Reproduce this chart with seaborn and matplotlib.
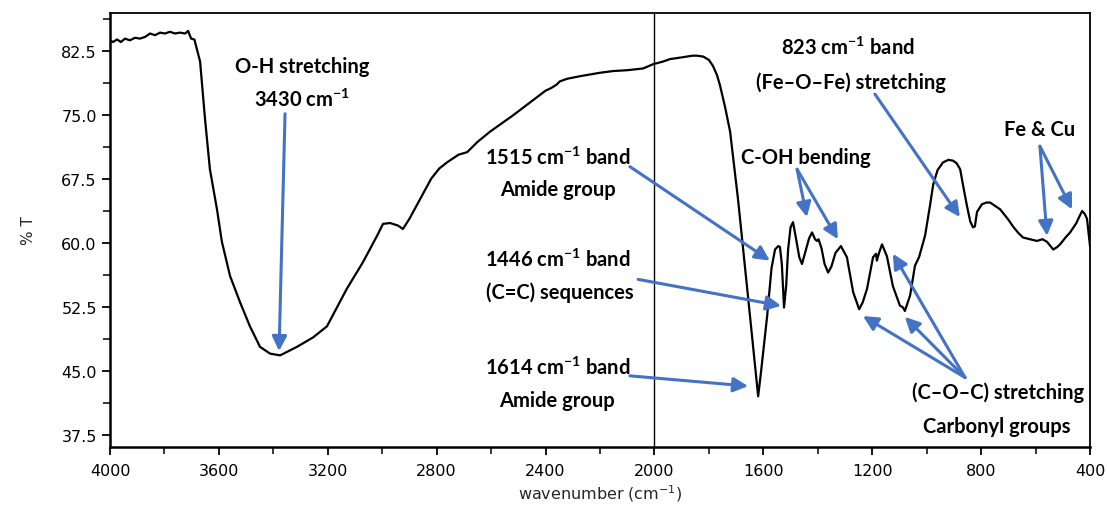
import matplotlib
matplotlib.use("Agg")
import matplotlib.pyplot as plt
import seaborn as sns
import pandas as pd
from matplotlib.ticker import MultipleLocator

# ---- data ----
wavenumber = [4000, 3989, 3974, 3960, 3945, 3927, 3908, 3890, 3871, 3853, 3835, 3816,
              3798, 3780, 3761, 3743, 3724, 3713, 3702, 3690, 3669, 3651, 3633, 3607,
              3589, 3559, 3522, 3486, 3449, 3412, 3375, 3313, 3254, 3203, 3130, 3071,
              3019, 2997, 2971, 2942, 2924, 2900, 2861, 2820,
              2790, 2762, 2720, 2688, 2650, 2604, 2560, 2520, 2450, 2400, 2380, 2360,
              2347, 2320, 2273, 2200, 2152, 2100, 2042, 2005, 1970, 1943, 1900, 1860,
              1844, 1821, 1800, 1785, 1770, 1759, 1740, 1722, 1693, 1674, 1649, 1630,
              1619, 1608, 1586, 1570, 1557, 1545, 1539, 1532, 1524, 1516, 1509, 1500,
              1491, 1480, 1468, 1458, 1445, 1432, 1421, 1410, 1403, 1397, 1386, 1375,
              1362, 1350, 1335, 1315, 1293, 1270, 1248, 1235, 1219, 1197, 1186, 1183,
              1175, 1164, 1146, 1124, 1098, 1090, 1085, 1080, 1061, 1043, 1028, 1006,
              988, 976, 960, 940, 920, 903, 890, 877, 865, 852, 840, 830, 823, 815,
              797, 780, 767, 730, 700, 683, 665, 646, 620, 595, 575, 558, 545, 535,
              520, 510, 490, 473, 450, 440, 429, 420, 411, 405, 400]
transmittance = [83.7, 83.5, 83.8, 83.5, 83.9, 83.7, 84.0, 83.9, 84.1, 84.5, 84.3, 84.6,
                 84.5, 84.7, 84.5, 84.6, 84.5, 84.8, 83.9, 83.8, 81.2, 74.5, 68.6, 63.9,
                 60.1, 56.1, 53.0, 50.2, 47.8, 47.0, 46.8, 47.8, 48.9, 50.2, 54.6, 57.7,
                 60.8, 62.2, 62.3, 62.0, 61.6, 62.8, 65.1, 67.5,
                 68.7, 69.4, 70.3, 70.6, 71.8, 73.0, 74.0, 74.9, 76.6, 77.8, 78.1, 78.5,
                 78.9, 79.2, 79.5, 79.9, 80.1, 80.2, 80.4, 80.9, 81.2, 81.5, 81.7, 81.9,
                 81.9, 81.8, 81.4, 80.7, 79.6, 78.4, 75.8, 73.0, 65.1, 59.2, 51.4, 45.4,
                 42.0, 45.0, 51.4, 57.0, 59.2, 59.6, 59.5, 57.5, 52.4, 55.0, 59.2, 61.8,
                 62.4, 60.5, 58.3, 57.5, 59.0, 60.5, 61.2, 60.4, 60.2, 60.4, 59.3, 57.5,
                 56.5, 57.2, 58.8, 59.6, 58.3, 54.2, 52.2, 53.0, 54.6, 58.3, 58.7, 57.9,
                 58.8, 59.8, 58.4, 54.9, 52.6, 52.5, 52.3, 52.0, 53.8, 57.3, 58.3, 60.8,
                 64.3, 66.8, 68.5, 69.4, 69.7, 69.6, 69.3, 68.6, 66.5, 64.3, 62.5, 61.8, 61.9, 63.6,
                 64.5, 64.7, 64.7, 63.9, 62.7, 61.9, 61.2, 60.6, 60.4, 60.2, 60.4, 60.1, 59.6, 59.2,
                 59.5, 59.8, 60.6, 61.2, 62.3, 63.0, 63.7, 63.4, 62.8, 61.0, 59.6]

x_ticks = [4000, 3600, 3200, 2800, 2400, 2000, 1600, 1200, 800, 400]
y_ticks = [37.5, 45.0, 52.5, 60.0, 67.5, 75.0, 82.5]

df = pd.DataFrame({"wavenumber": wavenumber, "T": transmittance})

sns.set_theme(style="ticks")
plt.rcParams["font.family"] = ["DejaVu Sans"]
plt.rcParams["mathtext.default"] = "regular"

fig = plt.figure(figsize=(11.07, 5.06), dpi=100)
ax = fig.add_axes([110 / 1107, 1 - 447.7 / 506, 980 / 1107, (447.7 - 14) / 506])

sns.lineplot(data=df, x="wavenumber", y="T", ax=ax, color="black", lw=1.6,
             sort=False, estimator=None)
ax.axvline(2000, color="black", lw=1.0)

ax.set_xlim(4000, 400)
ax.set_ylim(36.1, 86.9)
ax.set_xticks(x_ticks)
ax.set_yticks(y_ticks)
ax.set_yticklabels([f"{v:.1f}" for v in y_ticks])
ax.xaxis.set_minor_locator(MultipleLocator(200))
ax.yaxis.set_minor_locator(MultipleLocator(3.75))
ax.tick_params(axis="both", which="major", direction="out", length=6, width=1.3,
               labelsize=11.5, colors="black")
ax.tick_params(axis="both", which="minor", direction="out", length=5, width=1.3)
ax.tick_params(axis="x", pad=6)
for s in ax.spines.values():
    s.set_visible(True)
    s.set_color("black")
    s.set_linewidth(1.3)
ax.spines["left"].set_linewidth(1.8)
ax.spines["bottom"].set_linewidth(1.8)

ax.set_xlabel("wavenumber (cm$^{-1}$)", fontsize=11.5, labelpad=3)
ax.set_ylabel("% T", fontsize=11, labelpad=18)

# ---- annotations ----
blue = "#4472C4"
tfont = dict(family=["Lato", "DejaVu Sans"], fontweight="bold", fontsize=14.5,
             color="black", ha="center", va="center")
aprops = dict(arrowstyle="-|>", color=blue, lw=2.2, mutation_scale=22, shrinkA=0, shrinkB=0)

def text(x, y, s):
    ax.text(x, y, s, **tfont)

def arrow(tail, tip):
    ax.annotate("", xy=tip, xytext=tail, arrowprops=aprops)

text(3295, 80.7, "O-H stretching")
text(3295, 76.8, "3430 cm$^{-1}$")
arrow((3357, 75.1), (3379, 47.3))

text(1289, 82.9, "823 cm$^{-1}$ band")
text(1278, 78.8, "(Fe–O–Fe) stretching")
arrow((1190, 77.4), (878, 63.0))

text(584, 73.3, "Fe & Cu")
arrow((584, 71.3), (558, 60.8))
arrow((584, 71.3), (466, 63.9))

text(1443, 70.0, "C-OH bending")
arrow((1476, 68.6), (1440, 63.0))
arrow((1476, 68.6), (1326, 60.4))

text(2354, 70.0, "1515 cm$^{-1}$ band")
text(2354, 66.3, "Amide group")
arrow((2090, 68.9), (1576, 57.9))

text(2354, 58.1, "1446 cm$^{-1}$ band")
text(2347, 54.2, "(C=C) sequences")
arrow((2060, 55.7), (1535, 52.6))

text(2354, 45.5, "1614 cm$^{-1}$ band")
text(2357, 41.6, "Amide group")
arrow((2090, 44.4), (1656, 43.2))

text(738, 42.5, "(C–O–C) stretching")
text(742, 38.5, "Carbonyl groups")
arrow((859, 44.2), (1234, 51.4))
arrow((859, 44.2), (1080, 51.3))
arrow((859, 44.2), (1124, 58.7))

fig.savefig("out.png", dpi=100)
